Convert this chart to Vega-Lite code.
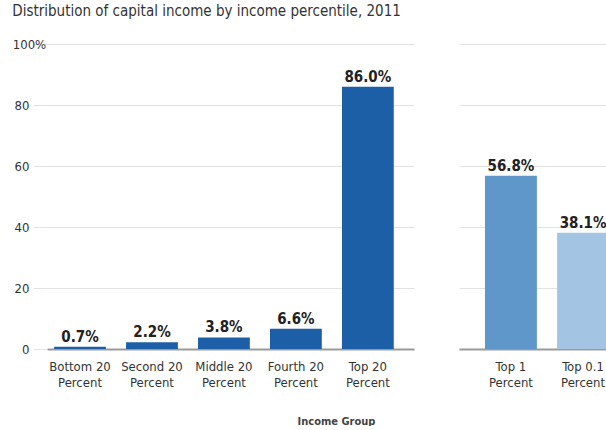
{
  "$schema": "https://vega.github.io/schema/vega-lite/v6.json",
  "padding": {"left": 12, "top": 4, "right": 0, "bottom": 0},
  "background": "white",
  "title": {
    "text": "Distribution of capital income by income percentile, 2011",
    "anchor": "start",
    "frame": "bounds",
    "fontSize": 15,
    "fontWeight": "normal",
    "font": "Liberation Sans Narrow, DejaVu Sans Condensed, sans-serif",
    "color": "#333333",
    "offset": 19
  },
  "config": {
    "view": {"stroke": null},
    "font": "Liberation Sans Narrow, DejaVu Sans Condensed, sans-serif",
    "axis": {"labelFont": "Liberation Sans Narrow, DejaVu Sans Condensed, sans-serif", "titleFont": "Liberation Sans Narrow, DejaVu Sans Condensed, sans-serif"}
  },
  "datasets": {
    "main": [
      {"group": "Bottom 20 Percent", "value": 0.7, "label": "0.7%"},
      {"group": "Second 20 Percent", "value": 2.2, "label": "2.2%"},
      {"group": "Middle 20 Percent", "value": 3.8, "label": "3.8%"},
      {"group": "Fourth 20 Percent", "value": 6.6, "label": "6.6%"},
      {"group": "Top 20 Percent", "value": 86.0, "label": "86.0%"}
    ],
    "top": [
      {"group": "Top 1 Percent", "value": 56.8, "label": "56.8%"},
      {"group": "Top 0.1 Percent", "value": 38.1, "label": "38.1%"}
    ]
  },
  "spacing": 45,
  "hconcat": [
    {
      "width": 367,
      "height": 305,
      "data": {"name": "main"},
      "encoding": {
        "x": {
          "field": "group",
          "type": "nominal",
          "sort": null,
          "scale": {"paddingInner": 0.28, "paddingOuter": 0.19, "align": 0.26},
          "axis": {
            "title": "Income Group",
            "titleFontSize": 11,
            "titleFontWeight": "bold",
            "titleColor": "#444444",
            "titleX": 289,
            "titleY": 72,
            "titleBaseline": "middle",
            "labelAngle": 0,
            "labelFontSize": 13,
            "labelColor": "#333333",
            "labelPadding": 11,
            "labelLineHeight": 16,
            "labelExpr": "[replace(datum.label, ' Percent', ''), 'Percent']",
            "ticks": false,
            "domainColor": "#9a9a9a",
            "domainWidth": 2
          }
        },
        "y": {
          "field": "value",
          "type": "quantitative",
          "scale": {"domain": [0, 100]},
          "axis": {
            "title": null,
            "values": [0, 20, 40, 60, 80, 100],
            "labelExpr": "datum.value == 100 ? '100%' : datum.label",
            "labelAlign": {"condition": {"test": "datum.value == 100", "value": "center"}, "value": "right"},
            "grid": true,
            "gridColor": "#e2e2e2",
            "ticks": true,
            "tickColor": "#e2e2e2",
            "tickSize": 14,
            "domain": false,
            "labelPadding": 4,
            "labelFontSize": 13,
            "labelColor": "#333333"
          }
        }
      },
      "layer": [
        {"mark": {"type": "bar", "color": "#1c5fa6"}},
        {
          "mark": {"type": "text", "baseline": "bottom", "dy": -2, "fontWeight": "bold", "fontSize": 15, "color": "#222222"},
          "encoding": {"text": {"field": "label"}}
        }
      ]
    },
    {
      "width": 150,
      "height": 305,
      "data": {"name": "top"},
      "encoding": {
        "x": {
          "field": "group",
          "type": "nominal",
          "sort": null,
          "scale": {"paddingInner": 0.28, "paddingOuter": 0.18, "align": 1},
          "axis": {
            "title": null,
            "labelAngle": 0,
            "labelFontSize": 13,
            "labelColor": "#333333",
            "labelPadding": 11,
            "labelLineHeight": 16,
            "labelExpr": "[replace(datum.label, ' Percent', ''), 'Percent']",
            "ticks": false,
            "domainColor": "#9a9a9a",
            "domainWidth": 2
          }
        },
        "y": {
          "field": "value",
          "type": "quantitative",
          "scale": {"domain": [0, 100]},
          "axis": {
            "title": null,
            "values": [0, 20, 40, 60, 80, 100],
            "labels": false,
            "grid": true,
            "gridColor": "#e2e2e2",
            "ticks": false,
            "domain": false
          }
        }
      },
      "layer": [
        {
          "mark": {"type": "bar"},
          "encoding": {
            "color": {
              "field": "group",
              "type": "nominal",
              "scale": {"domain": ["Top 1 Percent", "Top 0.1 Percent"], "range": ["#5f97ca", "#a3c5e3"]},
              "legend": null
            }
          }
        },
        {
          "mark": {"type": "text", "baseline": "bottom", "dy": -2, "fontWeight": "bold", "fontSize": 15, "color": "#222222"},
          "encoding": {"text": {"field": "label"}}
        }
      ]
    }
  ]
}
